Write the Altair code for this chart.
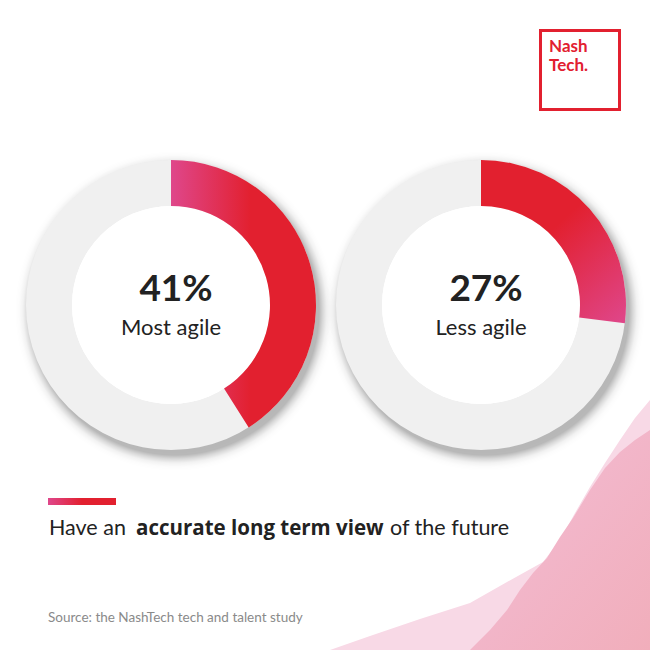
import altair as alt
import pandas as pd

# ---- data ----
labels = ["Most agile", "Less agile"]
shares = [41, 27]
headline_regular_1 = "Have an"
headline_bold = "accurate long term view"
headline_regular_2 = "of the future"
source_text = "Source: the NashTech tech and talent study"
logo_lines = ["Nash", "Tech."]

# decorative background waves (outline in page pixels)
wave_light_x = [330, 370, 420, 470, 507, 543, 560, 575, 590, 605, 620, 635, 650]
wave_light_y = [650, 636, 619, 603, 582, 562, 540, 513, 487, 463, 440, 418, 400]
wave_dark_x = [470, 490, 507, 520, 533, 547, 560, 573, 590, 605, 620, 635, 650]
wave_dark_y = [650, 630, 610, 590, 573, 558, 537, 518, 490, 468, 452, 440, 430]
page_bottom = 650

# ---- style ----
RED = "#e2202f"
PINK = "#df478b"
GREY_RING = "#f0f0f0"
TEXT = "#222222"
FONT = "Lato"

PX = alt.Scale(domain=[0, 650], range=[0, 650], nice=False, zero=False)
PY = alt.Scale(domain=[0, 650], range=[0, 650], nice=False, zero=False)
TH = alt.Scale(domain=[0, 100])


def stops(pairs):
    return [alt.GradientStop(color=c, offset=o) for o, c in pairs]


layers = []

# waves
wl = pd.DataFrame({"x": wave_light_x, "y": wave_light_y, "base": [page_bottom] * len(wave_light_x)})
wd = pd.DataFrame({"x": wave_dark_x, "y": wave_dark_y, "base": [page_bottom] * len(wave_dark_x)})
layers.append(
    alt.Chart(wl).mark_area(fill="#f8d9e6", stroke=None, orient="vertical").encode(
        x=alt.X("x:Q", scale=PX, axis=None),
        y=alt.Y("y:Q", scale=PY, axis=None),
        y2="base:Q",
    )
)
layers.append(
    alt.Chart(wd).mark_area(
        fill=alt.LinearGradient(
            gradient="linear",
            stops=stops([(0, "#f3bdd6"), (1, "#f1aebb")]),
            x1=0, y1=0, x2=1, y2=1,
        ),
        stroke=None,
        orient="vertical",
    ).encode(
        x=alt.X("x:Q", scale=PX, axis=None),
        y=alt.Y("y:Q", scale=PY, axis=None),
        y2="base:Q",
    )
)

centers = [(171, 305), (481, 305)]
gradients = [
    alt.LinearGradient(
        gradient="linear",
        stops=stops([(0, PINK), (0.55, RED), (1, RED)]),
        x1=0, y1=0, x2=1, y2=0,
    ),
    alt.LinearGradient(
        gradient="linear",
        stops=stops([(0, RED), (0.4, RED), (1, PINK)]),
        x1=0.2, y1=0, x2=1, y2=1,
    ),
]

shadow_fill = alt.RadialGradient(
    gradient="radial",
    stops=stops([
        (0, "rgba(0,0,0,0.30)"),
        (0.6, "rgba(0,0,0,0.28)"),
        (0.7, "rgba(0,0,0,0.15)"),
        (0.8, "rgba(0,0,0,0.05)"),
        (0.9, "rgba(0,0,0,0.01)"),
        (1, "rgba(0,0,0,0)"),
    ]),
    x1=0.5, y1=0.5, r1=0.375, x2=0.5, y2=0.5, r2=0.5,
)

for (cx, cy), label, share, grad in zip(centers, labels, shares, gradients):
    full = pd.DataFrame({"start": [0], "end": [100]})
    part = pd.DataFrame({"start": [0], "end": [share]})
    # shadow
    layers.append(
        alt.Chart(full).mark_arc(innerRadius=120, outerRadius=160, fill=shadow_fill, stroke=None).encode(
            theta=alt.Theta("start:Q", scale=TH, stack=None),
            theta2="end:Q",
            x=alt.value(cx + 4),
            y=alt.value(cy + 6),
        )
    )
    # grey ring
    layers.append(
        alt.Chart(full).mark_arc(innerRadius=99, outerRadius=145, fill=GREY_RING, stroke=None).encode(
            theta=alt.Theta("start:Q", scale=TH, stack=None),
            theta2="end:Q",
            x=alt.value(cx),
            y=alt.value(cy),
        )
    )
    # white centre
    layers.append(
        alt.Chart(full).mark_arc(innerRadius=0, outerRadius=99, fill="white", stroke=None).encode(
            theta=alt.Theta("start:Q", scale=TH, stack=None),
            theta2="end:Q",
            x=alt.value(cx),
            y=alt.value(cy),
        )
    )
    # share arc
    layers.append(
        alt.Chart(part).mark_arc(innerRadius=99, outerRadius=145, fill=grad, stroke=None).encode(
            theta=alt.Theta("start:Q", scale=TH, stack=None),
            theta2="end:Q",
            x=alt.value(cx),
            y=alt.value(cy),
        )
    )
    # centre texts
    layers.append(
        alt.Chart(pd.DataFrame({"t": [f"{share}%"]})).mark_text(
            font=FONT, fontSize=37, fontWeight="bold", color=TEXT, align="center", baseline="alphabetic"
        ).encode(text="t:N", x=alt.value(cx + 5), y=alt.value(301))
    )
    layers.append(
        alt.Chart(pd.DataFrame({"t": [label]})).mark_text(
            font=FONT, fontSize=22, color=TEXT, align="center", baseline="alphabetic"
        ).encode(text="t:N", x=alt.value(cx), y=alt.value(335))
    )

# accent bar
layers.append(
    alt.Chart(pd.DataFrame({"a": [0]})).mark_rect(
        fill=alt.LinearGradient(
            gradient="linear", stops=stops([(0, PINK), (0.5, RED), (1, RED)]), x1=0, y1=0, x2=1, y2=0
        ),
        stroke=None,
    ).encode(x=alt.value(48), x2=alt.value(116), y=alt.value(498), y2=alt.value(505))
)

# headline
for txt, xpos, weight, fnt, size in [
    (headline_regular_1, 49, "normal", FONT, 21.5),
    (headline_bold, 136, "bold", "Open Sans", 20.5),
    (headline_regular_2, 390, "normal", FONT, 21.5),
]:
    layers.append(
        alt.Chart(pd.DataFrame({"t": [txt]})).mark_text(
            font=fnt, fontSize=size, fontWeight=weight, color=TEXT, align="left", baseline="alphabetic"
        ).encode(text="t:N", x=alt.value(xpos), y=alt.value(535))
    )

# source
layers.append(
    alt.Chart(pd.DataFrame({"t": [source_text]})).mark_text(
        font=FONT, fontSize=13.5, color="#8a8a8a", align="left", baseline="alphabetic"
    ).encode(text="t:N", x=alt.value(48), y=alt.value(622))
)

# logo
layers.append(
    alt.Chart(pd.DataFrame({"a": [0]})).mark_rect(fill="white", stroke=RED, strokeWidth=3).encode(
        x=alt.value(540.5), x2=alt.value(619.5), y=alt.value(30.5), y2=alt.value(109.5)
    )
)
for line, ypos in zip(logo_lines, [51.5, 71]):
    layers.append(
        alt.Chart(pd.DataFrame({"t": [line]})).mark_text(
            font=FONT, fontSize=17, fontWeight="bold", color=RED, align="left", baseline="alphabetic"
        ).encode(text="t:N", x=alt.value(549), y=alt.value(ypos))
    )

chart = (
    alt.layer(*layers)
    .properties(width=650, height=650, padding=0, autosize=alt.AutoSizeParams(type="none"), background="white")
    .configure_view(stroke=None)
)

chart.save("out.html", embed_options={"renderer": "svg", "actions": False})
